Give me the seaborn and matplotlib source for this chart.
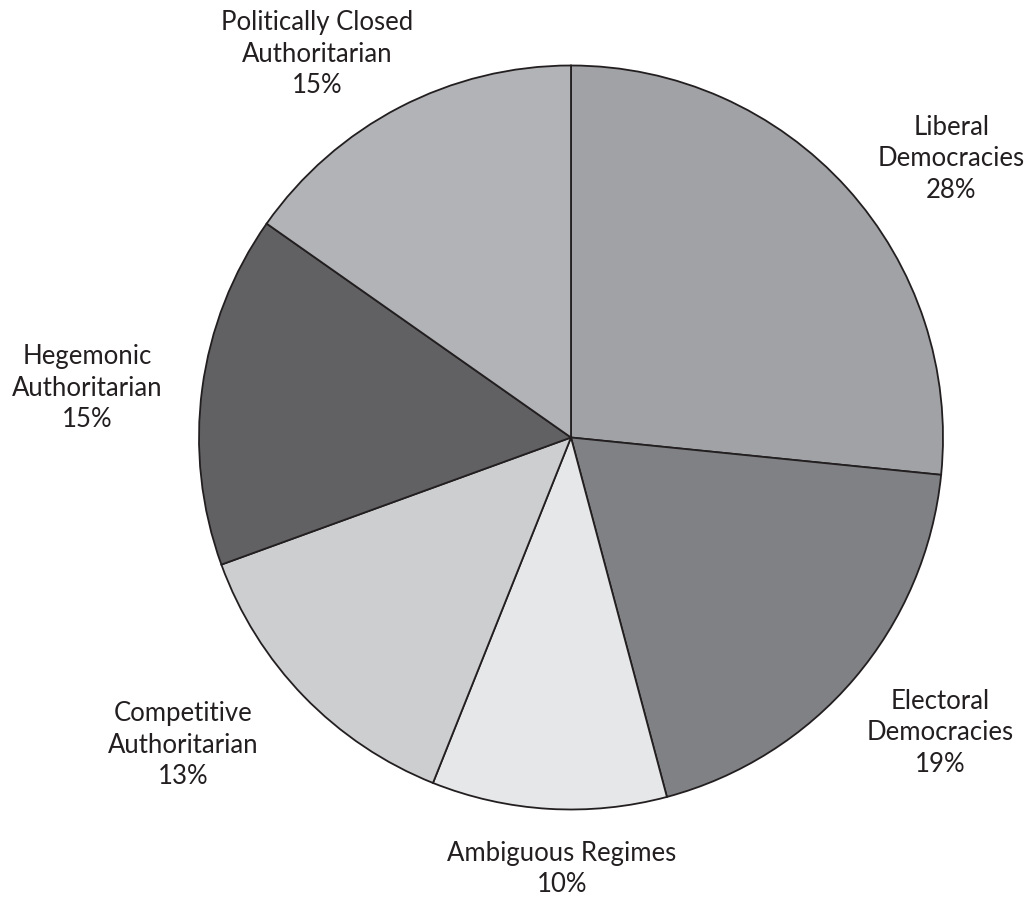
import matplotlib
matplotlib.use("Agg")
import matplotlib.pyplot as plt
import seaborn as sns

# Data
categories = ["Liberal\nDemocracies", "Electoral\nDemocracies", "Ambiguous Regimes",
              "Competitive\nAuthoritarian", "Hegemonic\nAuthoritarian",
              "Politically Closed\nAuthoritarian"]
shares = [26.6, 19.25, 10.2, 13.4, 15.3, 15.25]
pct_labels = ["28%", "19%", "10%", "13%", "15%", "15%"]
colors = ["#a1a2a5", "#808184", "#e6e7e8", "#cdced0", "#616163", "#b2b3b6"]

sns.set_theme(style="white")
plt.rcParams["font.family"] = ["Lato", "DejaVu Sans"]

fig = plt.figure(figsize=(10.25, 8.98), dpi=100)
ax = fig.add_axes([0, 0, 1, 1])
ax.pie(shares, colors=colors, startangle=90, counterclock=False, radius=1.0,
       wedgeprops=dict(edgecolor="#231f20", linewidth=1.3))
ax.set_xlim(-571 / 372, (1025 - 571) / 372)
ax.set_ylim((437.5 - 898) / 372, 437.5 / 372)
ax.set_aspect("auto")
ax.axis("off")

label_pos = [(1.022, 0.749), (0.992, -0.794), (-0.024, -1.160),
             (-1.043, -0.827), (-1.301, 0.133), (-0.683, 1.030)]
for cat, pct, (x, y) in zip(categories, pct_labels, label_pos):
    ax.text(x, y, f"{cat}\n{pct}", ha="center", va="center", fontsize=18.5,
            color="#231f20", linespacing=1.33)

fig.savefig("out.png", dpi=100)
